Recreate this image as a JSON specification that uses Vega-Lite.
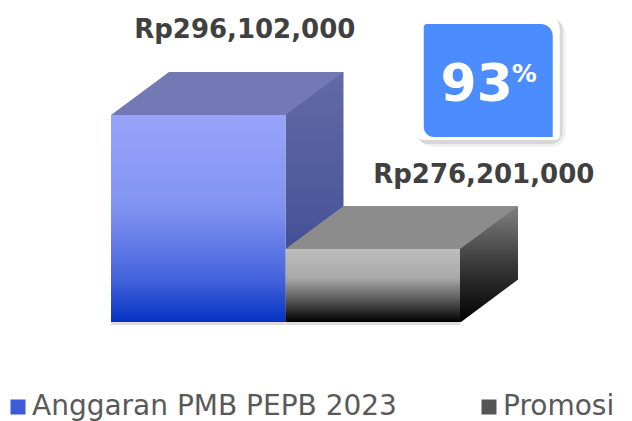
{
  "$schema": "https://vega.github.io/schema/vega-lite/v6.json",
  "width": 632,
  "height": 421,
  "padding": 0,
  "autosize": {"type": "none"},
  "background": "white",
  "config": {"view": {"stroke": null}},
  "data": {"values": [
    {"cat": "Anggaran PMB PEPB 2023", "value": 296102000, "label": "Rp296,102,000"},
    {"cat": "Promosi", "value": 276201000, "label": "Rp276,201,000"}
  ]},
  "encoding": {
    "x": {"field": "cat", "type": "nominal", "scale": {"domain": ["Anggaran PMB PEPB 2023", "Promosi"], "range": [111, 460], "paddingInner": 0, "paddingOuter": 0}, "axis": null},
    "y": {"field": "value", "type": "quantitative", "scale": {"domain": [265359000, 313181000], "range": [322, 0], "zero": false, "nice": false}, "axis": null}
  },
  "layer": [
    {
      "mark": {"type": "bar", "color": "#cfcfcf", "opacity": 0.7, "y2Offset": 3},
      "encoding": {"y": {"datum": 265359000}, "y2": {"datum": 265359000}}
    },
    {
      "mark": {"type": "point", "filled": true, "opacity": 0, "size": 1},
      "encoding": {
        "color": {"field": "cat", "type": "nominal",
          "scale": {"domain": ["Anggaran PMB PEPB 2023", "Promosi"], "range": ["#3b5bd9", "#555555"]},
          "legend": {"orient": "none", "legendX": 4, "legendY": 393, "direction": "horizontal", "title": null,
            "symbolType": "square", "symbolSize": 225, "symbolStrokeWidth": 0, "symbolOpacity": 1,
            "labelFont": "DejaVu Sans", "labelFontSize": 28, "labelColor": "#595959", "labelOffset": 0,
            "columnPadding": 78, "labelLimit": 1000}
        }
      }
    },
    {
      "transform": [{"filter": {"field": "cat", "equal": "Anggaran PMB PEPB 2023"}}],
      "mark": {"type": "bar", "width": 58, "xOffset": 116.25, "yOffset": -43,
        "color": {"gradient": "linear", "x1": 0, "y1": 0, "x2": 0, "y2": 1, "stops": [{"offset": 0, "color": "#636ba4"}, {"offset": 0.6, "color": "#4a569a"}, {"offset": 1, "color": "#2c3b88"}]}},
      "encoding": {"y2": {"datum": 265359000}}
    },
    {
      "transform": [{"filter": {"field": "cat", "equal": "Anggaran PMB PEPB 2023"}}],
      "mark": {"type": "bar",
        "color": {"gradient": "linear", "x1": 0, "y1": 0, "x2": 0, "y2": 1, "stops": [{"offset": 0, "color": "#98a4fa"}, {"offset": 0.45, "color": "#8193f1"}, {"offset": 0.8, "color": "#4262db"}, {"offset": 1, "color": "#0432c2"}]}},
      "encoding": {"y2": {"datum": 265359000}}
    },
    {
      "transform": [{"filter": {"field": "cat", "equal": "Anggaran PMB PEPB 2023"}}],
      "mark": {"type": "point", "shape": "M-87.25,0L87.25,0L145.25,-43L-29.25,-43Z", "size": 4, "filled": true, "color": "#7279b4", "opacity": 1, "strokeWidth": 0}
    },
    {
      "transform": [{"filter": {"field": "cat", "equal": "Promosi"}}],
      "mark": {"type": "bar", "width": 58, "xOffset": 116.25, "yOffset": -43,
        "color": {"gradient": "linear", "x1": 0, "y1": 0, "x2": 0, "y2": 1, "stops": [{"offset": 0, "color": "#808080"}, {"offset": 0.5, "color": "#3a3a3a"}, {"offset": 1, "color": "#000000"}]}},
      "encoding": {"y2": {"datum": 265359000}}
    },
    {
      "transform": [{"filter": {"field": "cat", "equal": "Promosi"}}],
      "mark": {"type": "bar",
        "color": {"gradient": "linear", "x1": 0, "y1": 0, "x2": 0, "y2": 1, "stops": [{"offset": 0, "color": "#bdbdbd"}, {"offset": 0.4, "color": "#a8a8a8"}, {"offset": 0.75, "color": "#4a4a4a"}, {"offset": 1, "color": "#000000"}]}},
      "encoding": {"y2": {"datum": 265359000}}
    },
    {
      "transform": [{"filter": {"field": "cat", "equal": "Promosi"}}],
      "mark": {"type": "point", "shape": "M-87.25,0L87.25,0L145.25,-43L-29.25,-43Z", "size": 4, "filled": true, "color": "#8c8c8c", "opacity": 1, "strokeWidth": 0}
    },
    {
      "transform": [{"filter": {"field": "cat", "equal": "Promosi"}}],
      "mark": {"type": "point", "shape": "M87.6,0.6L148,0.6L148,-44.5Z", "size": 4, "filled": true, "color": "white", "opacity": 1, "strokeWidth": 0},
      "encoding": {"y": {"datum": 265359000}}
    },
    {
      "transform": [{"filter": {"field": "cat", "equal": "Anggaran PMB PEPB 2023"}}],
      "mark": {"type": "text", "font": "DejaVu Sans", "fontWeight": "bold", "fontSize": 26, "color": "#404040", "align": "center", "baseline": "alphabetic", "xOffset": 46.5, "yOffset": -77},
      "encoding": {"text": {"field": "label"}}
    },
    {
      "transform": [{"filter": {"field": "cat", "equal": "Promosi"}}],
      "mark": {"type": "text", "font": "DejaVu Sans", "fontWeight": "bold", "fontSize": 26, "color": "#404040", "align": "center", "baseline": "alphabetic", "xOffset": 111, "yOffset": -66},
      "encoding": {"text": {"field": "label"}}
    },
    {
      "transform": [{"filter": {"field": "cat", "equal": "Promosi"}}],
      "mark": {"type": "bar", "width": 147, "xOffset": 119.5, "yOffset": -229, "y2Offset": -102, "color": "#000000", "opacity": 0.06, "cornerRadius": 14},
      "encoding": {"y2": {"field": "value"}}
    },
    {
      "transform": [{"filter": {"field": "cat", "equal": "Promosi"}}],
      "mark": {"type": "bar", "width": 147, "xOffset": 116.5, "yOffset": -231, "y2Offset": -105, "color": "#000000", "opacity": 0.1, "cornerRadius": 12},
      "encoding": {"y2": {"field": "value"}}
    },
    {
      "transform": [{"filter": {"field": "cat", "equal": "Promosi"}}],
      "mark": {"type": "bar", "width": 147, "xOffset": 113.5, "yOffset": -234, "y2Offset": -109, "color": "white", "cornerRadiusTopLeft": 8, "cornerRadiusTopRight": 14, "cornerRadiusBottomLeft": 12, "cornerRadiusBottomRight": 4},
      "encoding": {"y2": {"field": "value"}}
    },
    {
      "transform": [{"filter": {"field": "cat", "equal": "Promosi"}}],
      "mark": {"type": "bar", "width": 129, "xOffset": 115.5, "yOffset": -225, "y2Offset": -112, "color": "#4b8cff", "cornerRadiusTopLeft": 3, "cornerRadiusTopRight": 12, "cornerRadiusBottomLeft": 10, "cornerRadiusBottomRight": 0},
      "encoding": {"y2": {"field": "value"}}
    },
    {
      "transform": [{"filter": {"field": "cat", "equal": "Promosi"}}],
      "mark": {"type": "text", "font": "DejaVu Sans", "fontWeight": "bold", "fontSize": 52, "color": "white", "align": "center", "baseline": "alphabetic", "xOffset": 104, "yOffset": -148},
      "encoding": {"text": {"value": "93"}}
    },
    {
      "transform": [{"filter": {"field": "cat", "equal": "Promosi"}}],
      "mark": {"type": "text", "font": "DejaVu Sans", "fontWeight": "bold", "fontSize": 25, "color": "white", "align": "left", "baseline": "alphabetic", "xOffset": 139, "yOffset": -167},
      "encoding": {"text": {"value": "%"}}
    }
  ]
}
